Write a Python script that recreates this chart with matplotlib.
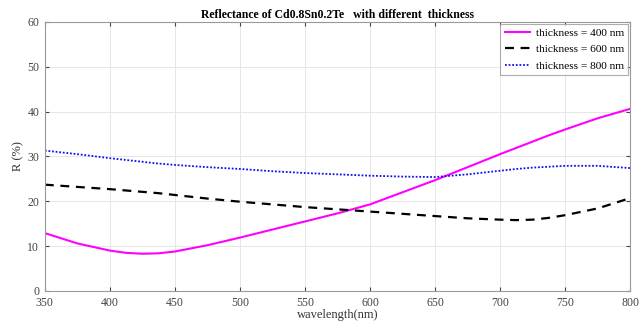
import matplotlib
matplotlib.use("Agg")
import matplotlib.pyplot as plt

wavelength = [350, 375, 400, 412.5, 425, 437.5, 450, 475, 500, 525, 550, 575, 600, 625, 650, 675, 700, 712.5, 725, 737.5, 750, 775, 800]
r_400 = [12.9, 10.6, 9.0, 8.5, 8.3, 8.4, 8.8, 10.2, 11.9, 13.7, 15.5, 17.3, 19.3, 22.0, 24.7, 27.6, 30.5, 31.9, 33.3, 34.7, 36.0, 38.5, 40.6]
r_600 = [23.7, 23.2, 22.7, 22.4, 22.1, 21.8, 21.4, 20.6, 19.9, 19.3, 18.7, 18.2, 17.7, 17.2, 16.7, 16.2, 15.9, 15.8, 15.9, 16.3, 16.9, 18.4, 20.7]
r_800 = [31.3, 30.5, 29.6, 29.2, 28.8, 28.4, 28.1, 27.6, 27.2, 26.7, 26.3, 26.0, 25.7, 25.5, 25.4, 26.0, 26.8, 27.2, 27.5, 27.7, 27.9, 27.9, 27.4]
labels = ["thickness = 400 nm", "thickness = 600 nm", "thickness = 800 nm"]
xticks = [350, 400, 450, 500, 550, 600, 650, 700, 750, 800]
yticks = [0, 10, 20, 30, 40, 50, 60]

plt.rcParams['font.family'] = ['Liberation Serif', 'DejaVu Serif']
fig = plt.figure(figsize=(6.41, 3.36), dpi=100)
ax = fig.add_axes([0.070, 0.134, 0.913, 0.801])
ax.plot(wavelength, r_400, color='#ff00ff', lw=1.5, ls='-', label=labels[0])
ax.plot(wavelength, r_600, color='black', lw=1.6, ls=(0, (4, 3)), label=labels[1])
ax.plot(wavelength, r_800, color='#1010ee', lw=1.3, ls=(0, (1, 1)), label=labels[2])
ax.set_xlim(350, 800)
ax.set_ylim(0, 60)
ax.set_xticks(xticks)
ax.set_yticks(yticks)
ax.grid(True, color='#e6e6e6', lw=0.7)
ax.set_axisbelow(True)
for s in ax.spines.values():
    s.set_color('#999999')
    s.set_linewidth(0.8)
ax.tick_params(direction='in', length=3, colors='#444444', labelsize=8.5, top=True, right=True)
ax.tick_params(axis='x', pad=4)
ax.tick_params(axis='y', pad=4)
ax.set_xlabel('wavelength(nm)', fontsize=9, labelpad=0, color='#333333')
ax.set_ylabel('R (%)', fontsize=9, labelpad=2, color='#333333')
ax.set_title('Reflectance of Cd0.8Sn0.2Te   with different  thickness', fontsize=8.5, fontweight='bold', pad=3)
leg = ax.legend(loc='upper right', fontsize=8.2, frameon=True, fancybox=False, borderaxespad=0.15,
                handlelength=2.2, labelspacing=0.55, borderpad=0.4, handletextpad=0.5)
leg.get_frame().set_edgecolor('#999999')
leg.get_frame().set_linewidth(0.8)
fig.savefig('out.png', dpi=100)
